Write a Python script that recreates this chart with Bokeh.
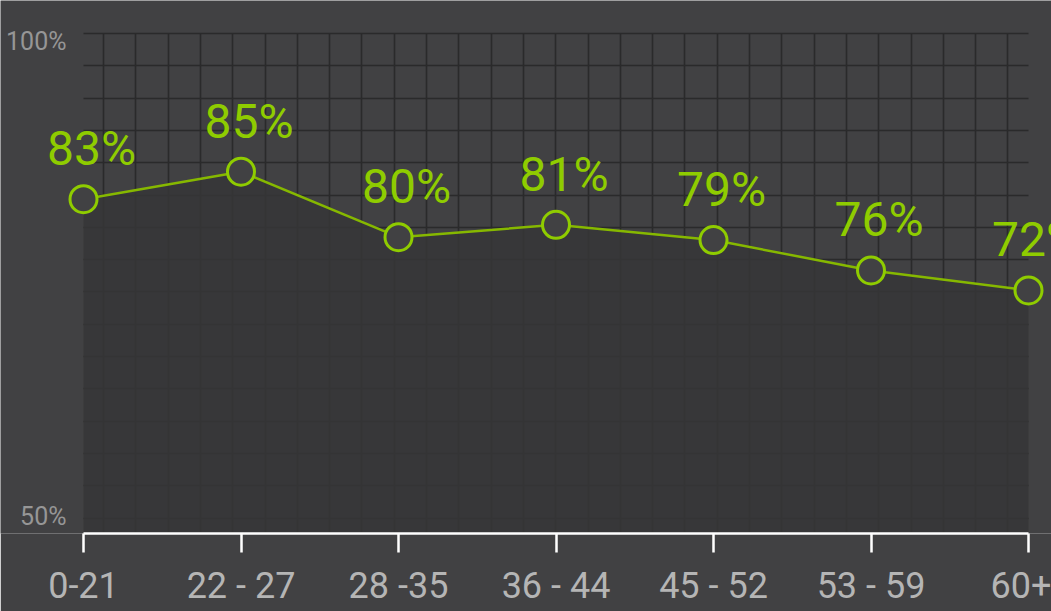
from bokeh.plotting import figure
from bokeh.models import Range1d, FixedTicker, ColumnDataSource, LabelSet
from bokeh.core.properties import value
from bokeh.embed import file_html
from bokeh.resources import INLINE

# ---- data ----
categories = ["0-21", "22 - 27", "28 -35", "36 - 44", "45 - 52", "53 - 59", "60+"]
values = [83.4, 86.3, 79.4, 80.7, 79.1, 75.9, 73.8]      # plotted positions
value_labels = ["83%", "85%", "80%", "81%", "79%", "76%", "72%"]
y_ticks = [50, 100]
y_tick_labels = ["50%", "100%"]

BG = "#414143"
AREA = "#363637"
GRID = "#2a2a2b"
GREEN = "#8fcc00"
LINE_GREEN = "#86b800"
LABEL_FONT = "Roboto"
AXIS_FONT = "Roboto"

xs = list(range(len(categories)))

# layout (pixels)
W, H = 1051, 611
bottom = 78
px_per_cat = 157.5          # distance between categories
x0_px, y50_px, y100_px = 83, 516, 41
px_per_pct = (y50_px - y100_px) / 50
x_start = -x0_px / px_per_cat
x_end = (W - x0_px) / px_per_cat
frame_h = H - bottom
y_start = 50 - (frame_h - y50_px) / px_per_pct
y_end = 100 + y100_px / px_per_pct

p = figure(width=W, height=H, output_backend="svg", toolbar_location=None,
           x_range=Range1d(x_start, x_end), y_range=Range1d(y_start, y_end),
           min_border_left=0, min_border_right=0,
           min_border_top=0, min_border_bottom=bottom)
p.background_fill_color = BG
p.border_fill_color = BG
p.outline_line_color = None

# decorative grid, 32.3 px cells, confined to the plot box
cell = 32.3
grid_top_px = 33
vgrid = [(103 - x0_px + k * cell) / px_per_cat for k in range(29)]
hgrid = [50 + (y50_px - (grid_top_px + k * cell)) / px_per_pct for k in range(16)]
p.xgrid.ticker = FixedTicker(ticks=vgrid)
p.ygrid.ticker = FixedTicker(ticks=hgrid)
p.xgrid.cross_bounds = (y_start, 50 + (y50_px - grid_top_px) / px_per_pct)
p.ygrid.cross_bounds = (0, len(categories) - 1)
p.xgrid.bounds = (0, len(categories) - 1)
p.ygrid.bounds = (y_start, y_end)
for g in (p.xgrid, p.ygrid):
    g.grid_line_color = GRID
    g.grid_line_width = 1.6

src = ColumnDataSource(dict(x=xs, y=values, lab=value_labels))

# darker area under line
p.varea(x="x", y1=y_start, y2="y", source=src, fill_color=AREA, fill_alpha=0.85)
p.line(x="x", y="y", source=src, line_color=LINE_GREEN, line_width=2.5)
p.scatter(x="x", y="y", source=src, size=27, fill_color=BG,
          line_color=GREEN, line_width=3)

labels = LabelSet(x="x", y="y", text="lab", source=src, text_align="center",
                  text_baseline="alphabetic", x_offset=8, y_offset=34,
                  text_color=GREEN, text_font=value(LABEL_FONT), text_font_size="48px")
p.add_layout(labels)

# x axis
xa = p.xaxis[0]
xa.ticker = FixedTicker(ticks=xs)
xa.major_label_overrides = {i: c for i, c in zip(xs, categories)}
xa.bounds = (0, len(categories) - 1)
xa.axis_line_color = "white"
xa.axis_line_width = 2.5
xa.major_tick_line_color = "white"
xa.major_tick_line_width = 2.5
xa.major_tick_out = 19
xa.major_tick_in = 0
xa.minor_tick_line_color = None
xa.major_label_standoff = 12
xa.major_label_text_color = "#b5b5b5"
xa.major_label_text_font = AXIS_FONT
xa.major_label_text_font_size = "36px"

# y tick labels (inside the full-width frame)
p.yaxis.visible = False
ysrc = ColumnDataSource(dict(y=y_ticks, lab=y_tick_labels))
ylabels = LabelSet(x=66, x_units="screen", y="y", text="lab", source=ysrc,
                   text_align="right", text_baseline="middle",
                   text_color="#969696", text_font=value(AXIS_FONT), text_font_size="25px")
p.add_layout(ylabels)

open("out.html", "w").write(file_html(p, INLINE))
